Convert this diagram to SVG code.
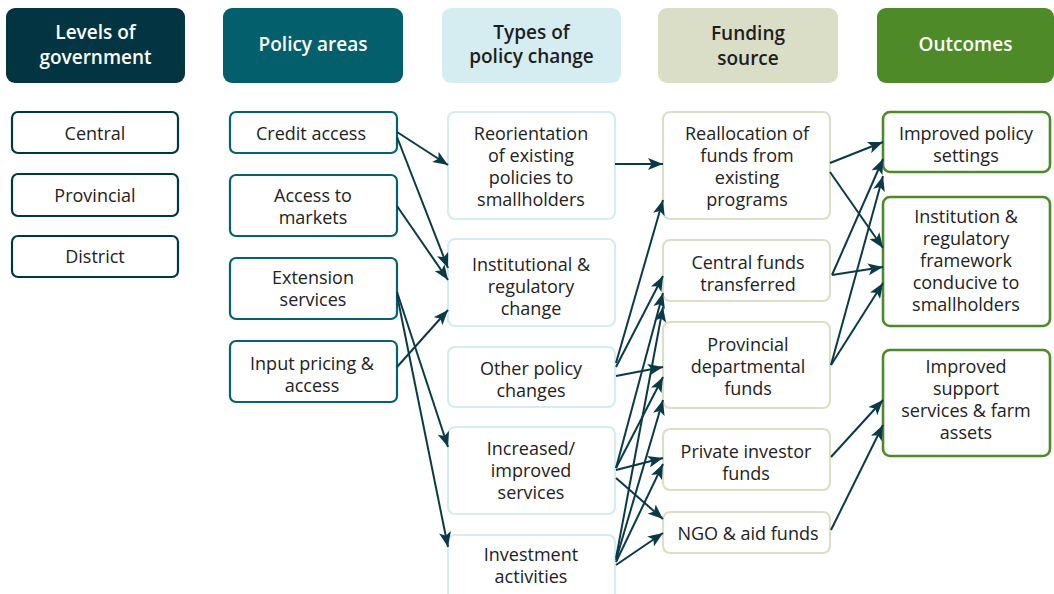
<svg xmlns="http://www.w3.org/2000/svg" width="1054" height="594" viewBox="0 0 1054 594">
<style>
text{font-family:"Open Sans","Noto Sans","Liberation Sans",sans-serif;text-anchor:middle;dominant-baseline:central}
.h{font-size:19px;font-weight:600}
.hw{fill:#ffffff}
.hd{fill:#1e1e1e}
.t{font-size:18px;fill:#222222}
.n{fill:#ffffff;stroke-width:2.2}
.c1{stroke:#033644}
.c2{stroke:#046270}
.c3{stroke:#d5ecf1}
.c4{stroke:#dcdfc8}
.c5{stroke:#4e8a2a;stroke-width:2.6}
.e{fill:none;stroke:#0a3a48;stroke-width:2;marker-end:url(#ah)}
</style>
<defs>
<marker id="ah" markerUnits="userSpaceOnUse" markerWidth="16" markerHeight="12" refX="15" refY="6" orient="auto">
<path d="M0,0 L15,6 L0,12 L3.5,6 z" fill="#0a3a48"/>
</marker>
</defs>
<rect width="1054" height="594" fill="#ffffff"/>

<g id="hdr-levels"><rect x="6" y="8" width="179" height="75" rx="9" fill="#023441"/><text class="h hw" x="95.5" y="32">Levels of</text><text class="h hw" x="95.5" y="57">government</text></g>
<g id="hdr-policy"><rect x="223" y="8" width="180" height="75" rx="9" fill="#035f6b"/><text class="h hw" x="313" y="44">Policy areas</text></g>
<g id="hdr-types"><rect x="442" y="8" width="179" height="75" rx="9" fill="#d5ecf1"/><text class="h hd" x="531.5" y="31.5">Types of</text><text class="h hd" x="531.5" y="56">policy change</text></g>
<g id="hdr-funding"><rect x="658" y="8" width="180" height="75" rx="9" fill="#dbdec6"/><text class="h hd" x="748" y="33">Funding</text><text class="h hd" x="748" y="58">source</text></g>
<g id="hdr-outcomes"><rect x="877" y="8" width="177" height="75" rx="9" fill="#4e8a28"/><text class="h hw" x="965.5" y="44">Outcomes</text></g>

<g id="lv-central"><rect class="n c1" x="12" y="112" width="166" height="41" rx="6"/><text class="t" x="95" y="133">Central</text></g>
<g id="lv-provincial"><rect class="n c1" x="12" y="174" width="166" height="42" rx="6"/><text class="t" x="95" y="195">Provincial</text></g>
<g id="lv-district"><rect class="n c1" x="12" y="236" width="166" height="41" rx="6"/><text class="t" x="95" y="256">District</text></g>

<g id="pa-credit"><rect class="n c2" x="230" y="112" width="167" height="41" rx="6"/><text class="t" x="311" y="133">Credit access</text></g>
<g id="pa-markets"><rect class="n c2" x="230" y="175" width="167" height="61" rx="6"/><text class="t" x="313" y="195">Access to</text><text class="t" x="313" y="217">markets</text></g>
<g id="pa-extension"><rect class="n c2" x="230" y="258" width="167" height="61" rx="6"/><text class="t" x="313" y="277">Extension</text><text class="t" x="313" y="299">services</text></g>
<g id="pa-input"><rect class="n c2" x="230" y="341" width="167" height="61" rx="6"/><text class="t" x="312" y="363">Input pricing &amp;</text><text class="t" x="312" y="385">access</text></g>

<g id="tp-reorient"><rect class="n c3" x="448" y="112" width="167" height="107" rx="7"/><text class="t" x="531" y="133">Reorientation</text><text class="t" x="531" y="155">of existing</text><text class="t" x="531" y="177">policies to</text><text class="t" x="531" y="199">smallholders</text></g>
<g id="tp-institutional"><rect class="n c3" x="448" y="239" width="167" height="87" rx="7"/><text class="t" x="531" y="264">Institutional &amp;</text><text class="t" x="531" y="286">regulatory</text><text class="t" x="531" y="308">change</text></g>
<g id="tp-other"><rect class="n c3" x="448" y="347" width="167" height="60" rx="7"/><text class="t" x="531" y="368">Other policy</text><text class="t" x="531" y="390">changes</text></g>
<g id="tp-increased"><rect class="n c3" x="448" y="427" width="167" height="87" rx="7"/><text class="t" x="531" y="448">Increased/</text><text class="t" x="531" y="470">improved</text><text class="t" x="531" y="492">services</text></g>
<g id="tp-investment"><rect class="n c3" x="448" y="535" width="167" height="75" rx="7"/><text class="t" x="531" y="554">Investment</text><text class="t" x="531" y="576">activities</text></g>

<g id="fs-realloc"><rect class="n c4" x="663" y="112" width="167" height="107" rx="7"/><text class="t" x="747" y="133">Reallocation of</text><text class="t" x="747" y="155">funds from</text><text class="t" x="747" y="177">existing</text><text class="t" x="747" y="199">programs</text></g>
<g id="fs-central"><rect class="n c4" x="663" y="240" width="167" height="61" rx="7"/><text class="t" x="748" y="262">Central funds</text><text class="t" x="748" y="284">transferred</text></g>
<g id="fs-provincial"><rect class="n c4" x="663" y="322" width="167" height="86" rx="7"/><text class="t" x="748" y="344">Provincial</text><text class="t" x="748" y="366">departmental</text><text class="t" x="748" y="388">funds</text></g>
<g id="fs-private"><rect class="n c4" x="663" y="429" width="167" height="61" rx="7"/><text class="t" x="746" y="451">Private investor</text><text class="t" x="746" y="473">funds</text></g>
<g id="fs-ngo"><rect class="n c4" x="663" y="512" width="167" height="41" rx="7"/><text class="t" x="748" y="533">NGO &amp; aid funds</text></g>

<g id="oc-policy"><rect class="n c5" x="883" y="112" width="167" height="60" rx="7"/><text class="t" x="966" y="133">Improved policy</text><text class="t" x="966" y="155">settings</text></g>
<g id="oc-institution"><rect class="n c5" x="883" y="197" width="167" height="129" rx="7"/><text class="t" x="966" y="216">Institution &amp;</text><text class="t" x="966" y="238">regulatory</text><text class="t" x="966" y="260">framework</text><text class="t" x="966" y="282">conducive to</text><text class="t" x="966" y="304">smallholders</text></g>
<g id="oc-support"><rect class="n c5" x="883" y="350" width="167" height="106" rx="7"/><text class="t" x="966" y="366">Improved</text><text class="t" x="966" y="388">support</text><text class="t" x="966" y="410">services &amp; farm</text><text class="t" x="966" y="432">assets</text></g>

<g id="connectors">
<line class="e" x1="397" y1="132" x2="448" y2="165"/>
<line class="e" x1="397" y1="137" x2="448" y2="268"/>
<line class="e" x1="397" y1="206" x2="448" y2="280"/>
<line class="e" x1="397" y1="367" x2="448" y2="310"/>
<line class="e" x1="397" y1="292" x2="448" y2="447"/>
<line class="e" x1="397" y1="295" x2="448" y2="547"/>

<line class="e" x1="615" y1="164" x2="663" y2="164"/>
<line class="e" x1="616" y1="363" x2="663" y2="200"/>
<line class="e" x1="616" y1="367" x2="663" y2="276"/>
<line class="e" x1="616" y1="376" x2="663" y2="367"/>
<line class="e" x1="616" y1="468" x2="663" y2="293"/>
<line class="e" x1="616" y1="468" x2="663" y2="377"/>
<line class="e" x1="616" y1="470" x2="663" y2="458"/>
<line class="e" x1="616" y1="478" x2="663" y2="519"/>
<line class="e" x1="616" y1="558" x2="663" y2="307"/>
<line class="e" x1="616" y1="560" x2="663" y2="400"/>
<line class="e" x1="616" y1="562" x2="663" y2="464"/>
<line class="e" x1="616" y1="565" x2="663" y2="533"/>

<line class="e" x1="830" y1="163" x2="883" y2="142"/>
<line class="e" x1="830" y1="172" x2="883" y2="248"/>
<line class="e" x1="832" y1="275" x2="883" y2="159"/>
<line class="e" x1="832" y1="275" x2="883" y2="267"/>
<line class="e" x1="831" y1="365" x2="883" y2="176"/>
<line class="e" x1="831" y1="365" x2="883" y2="283"/>
<line class="e" x1="831" y1="457" x2="883" y2="400"/>
<line class="e" x1="831" y1="530" x2="883" y2="425"/>
</g>
</svg>
